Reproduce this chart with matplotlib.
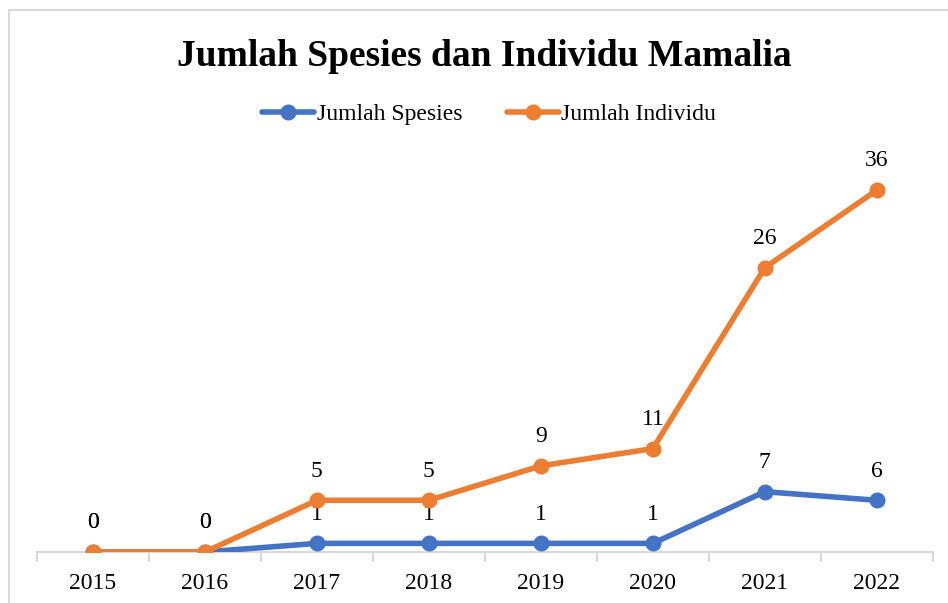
import matplotlib
matplotlib.use("Agg")
import matplotlib.pyplot as plt
from matplotlib.lines import Line2D
import numpy as np

years = ["2015", "2016", "2017", "2018", "2019", "2020", "2021", "2022"]
spesies = [0, 0, 1, 1, 1, 1, 7, 6]
individu = [0, 0, 5, 5, 9, 11, 26, 36]

BLUE = "#4472C4"
ORANGE = "#ED7D31"
GRID = "#D9D9D9"

plt.rcParams["font.family"] = ["Liberation Serif", "DejaVu Serif"]

fig = plt.figure(figsize=(9.48, 6.03), dpi=100)
ax = fig.add_axes([0.039, 0.0846, 0.945, 0.7144])

x = np.arange(len(years))
# stacked line chart: second series sits on top of the first
stacked = np.array(spesies) + np.array(individu)

ax.plot(x, spesies, color=BLUE, lw=4, marker="o", ms=10.5,
        label="Jumlah Spesies", solid_capstyle="round", zorder=3)
ax.plot(x, stacked, color=ORANGE, lw=4, marker="o", ms=10.5,
        label="Jumlah Individu", solid_capstyle="round", zorder=4)

for xi, yi, v in zip(x, spesies, spesies):
    ax.annotate(str(v), (xi, yi), xytext=(0, 21), textcoords="offset points",
                ha="center", va="center", fontsize=17, color="#000000")
for xi, yi, v in zip(x, stacked, individu):
    ax.annotate(str(v), (xi, yi), xytext=(0, 21), textcoords="offset points",
                ha="center", va="center", fontsize=17, color="#000000")

ax.set_xlim(-0.5, len(years) - 0.5)
ax.set_ylim(0, 50)

for s in ("top", "right", "left"):
    ax.spines[s].set_visible(False)
ax.spines["bottom"].set_color(GRID)
ax.spines["bottom"].set_linewidth(1.5)
ax.spines["bottom"].set_zorder(1)

ax.set_yticks([])
ax.set_xticks(np.arange(-0.5, len(years), 1.0))
ax.set_xticklabels([])
ax.tick_params(axis="x", which="major", length=7, width=1.5, color=GRID)
ax.set_xticks(x, minor=True)
ax.set_xticklabels(years, minor=True, fontsize=17)
ax.tick_params(axis="x", which="minor", length=0, pad=15)

fig.text(0.511, 0.907, "Jumlah Spesies dan Individu Mamalia",
         ha="center", va="center", fontsize=27, fontweight="bold")

fig.legend(loc="center", bbox_to_anchor=(0.516, 0.81), ncol=2, frameon=False,
           fontsize=17, handlelength=2.2, handletextpad=0.1, columnspacing=1.9)

# outer chart border (top and left edges fall inside the canvas)
fig.add_artist(Line2D([0.009, 1.0], [0.984, 0.984], transform=fig.transFigure,
                      color=GRID, lw=1.5))
fig.add_artist(Line2D([0.009, 0.009], [0.0, 0.984], transform=fig.transFigure,
                      color=GRID, lw=1.5))

fig.savefig("out.png", dpi=100)
